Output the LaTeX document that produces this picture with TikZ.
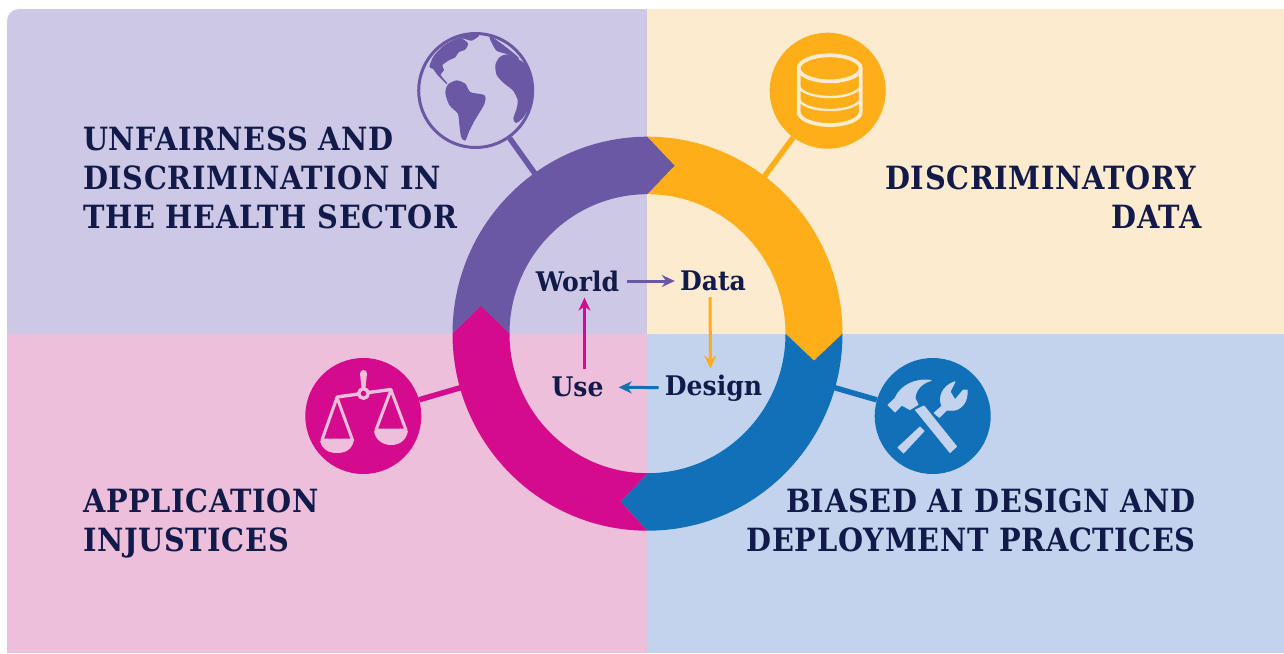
\documentclass[tikz,border=0pt]{standalone}
\usepackage{fontspec}
\usetikzlibrary{arrows.meta}
\newfontfamily\headfont[FakeStretch=0.9,LetterSpace=2]{DejaVu Serif}
\newfontfamily\midfont[FakeStretch=0.93]{DejaVu Serif}
\definecolor{ink}{HTML}{121A4A}
\definecolor{bgpurple}{HTML}{CCC8E6}
\definecolor{bgcream}{HTML}{FDEBD0}
\definecolor{bgpink}{HTML}{EDBFDB}
\definecolor{bgblue}{HTML}{C3D3EE}
\definecolor{cpurple}{HTML}{6B58A5}
\definecolor{cyellow}{HTML}{FDAE18}
\definecolor{cblue}{HTML}{1170B8}
\definecolor{cpink}{HTML}{D30B8C}
\tikzset{
  head/.style={font=\headfont\bfseries\fontsize{32}{38.7}\selectfont,text=ink,inner sep=0pt},
  mid/.style={font=\midfont\bfseries\fontsize{27}{30}\selectfont,text=ink,inner sep=0pt},
  badge/.style={circle,minimum size=116pt,inner sep=0pt},
  spoke/.style={line width=5.5pt},
  flow/.style={line width=3pt,-{Stealth[length=13pt,width=12pt]}},
  land/.style={fill=cpurple,draw=cpurple,line width=1.2pt,line join=round},
  outer/.style={x radius=195,y radius=197},
  inner/.style={x radius=138,y radius=139.5},
}
\begin{document}
\begin{tikzpicture}[x=1pt,y=1pt,yscale=-1]
\useasboundingbox (0,0) rectangle (1284,653);
% panels
\fill[bgpurple] (647,334) -- (647,9) -- (19,9) to[out=180,in=-90] (7,21) -- (7,334) -- cycle;
\fill[bgcream] (647,9) rectangle (1284,334);
\fill[bgpink] (7,333.5) rectangle (647,653);
\fill[bgblue] (647,333.5) rectangle (1284,653);
\coordinate (hub) at (647.5,333.7);
\coordinate (r1) at (551.6,197);
\coordinate (r2) at (747,200);
\coordinate (r3) at (487,380);
\coordinate (r4) at (808,380);
% badges
\node[badge,draw=cpurple,line width=3pt,fill=bgpurple,minimum size=114pt] (globe) at (475.7,90.5) {};
\node[badge,fill=cyellow] (db) at (827.7,90.7) {};
\node[badge,fill=cpink] (scales) at (363.3,416) {};
\node[badge,fill=cblue] (tools) at (932.7,416) {};
\draw[spoke,cpurple] (globe) -- (r1);
\draw[spoke,cyellow] (db) -- (r2);
\draw[spoke,cpink] (scales) -- (r3);
\draw[spoke,cblue] (tools) -- (r4);
% ring
\begin{scope}[shift={(hub)}]
\fill[cpurple] (0,-197) -- (27.5,-168) -- (0,-139.5) arc[start angle=-90,end angle=-180,inner] -- (-166.5,-28) -- (-195,0) arc[start angle=180,end angle=270,outer] -- cycle;
\fill[cyellow] (0,-197) arc[start angle=-90,end angle=0,outer] -- (166.5,27) -- (138,0) arc[start angle=0,end angle=-90,inner] -- (27.5,-168) -- cycle;
\fill[cblue] (195,0) arc[start angle=0,end angle=90,outer] -- (-27,168) -- (0,139.5) arc[start angle=90,end angle=0,inner] -- (166.5,27) -- cycle;
\fill[cpink] (0,197) arc[start angle=90,end angle=180,outer] -- (-166.5,-28) -- (-138,0) arc[start angle=180,end angle=90,inner] -- (-27,168) -- cycle;
\end{scope}
% globe continents (in 1/3 px units)
\begin{scope}[shift={(410,25)},scale=0.33333]
\path[land] plot[smooth cycle,tension=0.45] coordinates {(108,205) (115,180) (140,168) (165,178) (180,203) (222,212) (222,235) (205,265) (190,290) (175,320) (165,345) (155,335) (150,300) (145,265) (120,240)};
\path[land] plot[smooth cycle,tension=0.4] coordinates {(60,125) (72,95) (100,65) (130,47) (150,40) (172,55) (165,72) (145,80) (135,95) (115,105) (95,120) (100,135) (90,150) (110,175) (85,150) (70,130)};
\path[land] plot[smooth cycle,tension=0.4] coordinates {(150,36) (195,27) (205,32) (185,45) (165,40)};
\path[land] plot[smooth cycle,tension=0.4] coordinates {(240,36) (270,55) (300,78) (325,100) (290,85) (260,75)};
\path[land] plot[smooth cycle,tension=0.45] coordinates {(258,120) (270,98) (290,90) (320,102) (345,120) (362,160) (368,200) (360,240) (335,280) (318,292) (312,280) (322,250) (325,225) (310,195) (285,175) (262,150)};
\end{scope}
% database
\begin{scope}[bgcream]
\draw[line width=3.8pt] (829.7,68.3) ellipse[x radius=31,y radius=13];
\draw[line width=3.8pt] (798.7,68.3) -- (798.7,112) arc[start angle=180,end angle=0,x radius=31,y radius=13] -- (860.7,68.3);
\draw[line width=2.4pt] (798.7,85) arc[start angle=180,end angle=0,x radius=31,y radius=12];
\draw[line width=2.4pt] (798.7,98) arc[start angle=180,end angle=0,x radius=31,y radius=12];
\end{scope}
% scales
\begin{scope}[bgpink,line join=round,line cap=round]
\fill (360,373.5) arc[start angle=180,end angle=360,radius=3.5] -- (365.5,388) -- (361.5,388) -- cycle;
\draw[line width=3.4pt,fill=cpink] (363.5,393.5) circle[radius=4.8];
\draw[line width=3.4pt] (337,397) -- (358.5,394) (368.5,392.5) -- (391,389.5);
\draw[line width=3pt] (337,397.5) -- (322,440) -- (352.5,440) -- cycle;
\draw[line width=3pt] (391,390) -- (376,430) -- (406,430) -- cycle;
\fill (320,441) -- (354,440) .. controls (352,450) and (345,453) .. (337,453) .. controls (328,453) and (322,449) .. cycle;
\fill (374,431) -- (408,431) .. controls (406,441) and (399,445) .. (391,445) .. controls (382,445) and (375,439) .. cycle;
\end{scope}
% tools
\begin{scope}[bgblue,line join=round]
\filldraw[line width=1pt] (888,405) -- (895,398.5) .. controls (900,386) and (915,378) .. (931,380.5) .. controls (921,383) and (915,391) .. (915,398.5) -- (918,404.5) -- (910,409.5) -- (901.7,405) -- (895,412) -- cycle;
\filldraw[line width=1pt] (915.5,410) -- (924,406) -- (956.5,446.5) -- (950,452.5) -- cycle;
\filldraw[line width=1pt] (898,447.5) -- (920,427) -- (924,431) -- (903.5,453) -- cycle;
\filldraw[line width=1pt] (934.3,413) -- (942,406) .. controls (938,398) and (942,386) .. (955,381.7) -- (950,391.7) -- (955,400) -- (963.3,390) -- (967,390) .. controls (968,400) and (963,408) .. (955,410) -- (946.7,410) -- (939.3,417.3) -- cycle;
\end{scope}
% headings
\node[head,anchor=base west,align=left] (t1) at (83,228) {UNFAIRNESS AND\\DISCRIMINATION IN\\THE HEALTH SECTOR};
\node[head,anchor=base east,align=right] (t2) at (1202,228) {DISCRIMINATORY\hspace*{6pt}\mbox{}\\DATA};
\node[head,anchor=base west,align=left] (t3) at (83,551) {APPLICATION\\INJUSTICES};
\node[head,anchor=base east,align=right] (t4) at (1196,551) {BIASED AI DESIGN AND\\DEPLOYMENT PRACTICES};
% inner cycle
\node[mid] (world) at (577.5,281) {World};
\node[mid] (data) at (713,281) {Data};
\node[mid] (design) at (713.5,388) {Design};
\node[mid] (use) at (577.5,387) {Use};
\draw[flow,cpurple,shorten <=8pt,shorten >=5pt] (world) -- (data);
\draw[flow,cyellow,shorten <=6pt,shorten >=6pt] ([xshift=-3pt]data.south) -- ([xshift=-3pt]design.north);
\draw[flow,cblue,shorten <=6pt,shorten >=15pt] (design) -- (use);
\draw[flow,cpink,shorten <=8pt,shorten >=6pt] ([xshift=7pt]use.north) -- ([xshift=7pt]world.south);
\end{tikzpicture}
\end{document}
